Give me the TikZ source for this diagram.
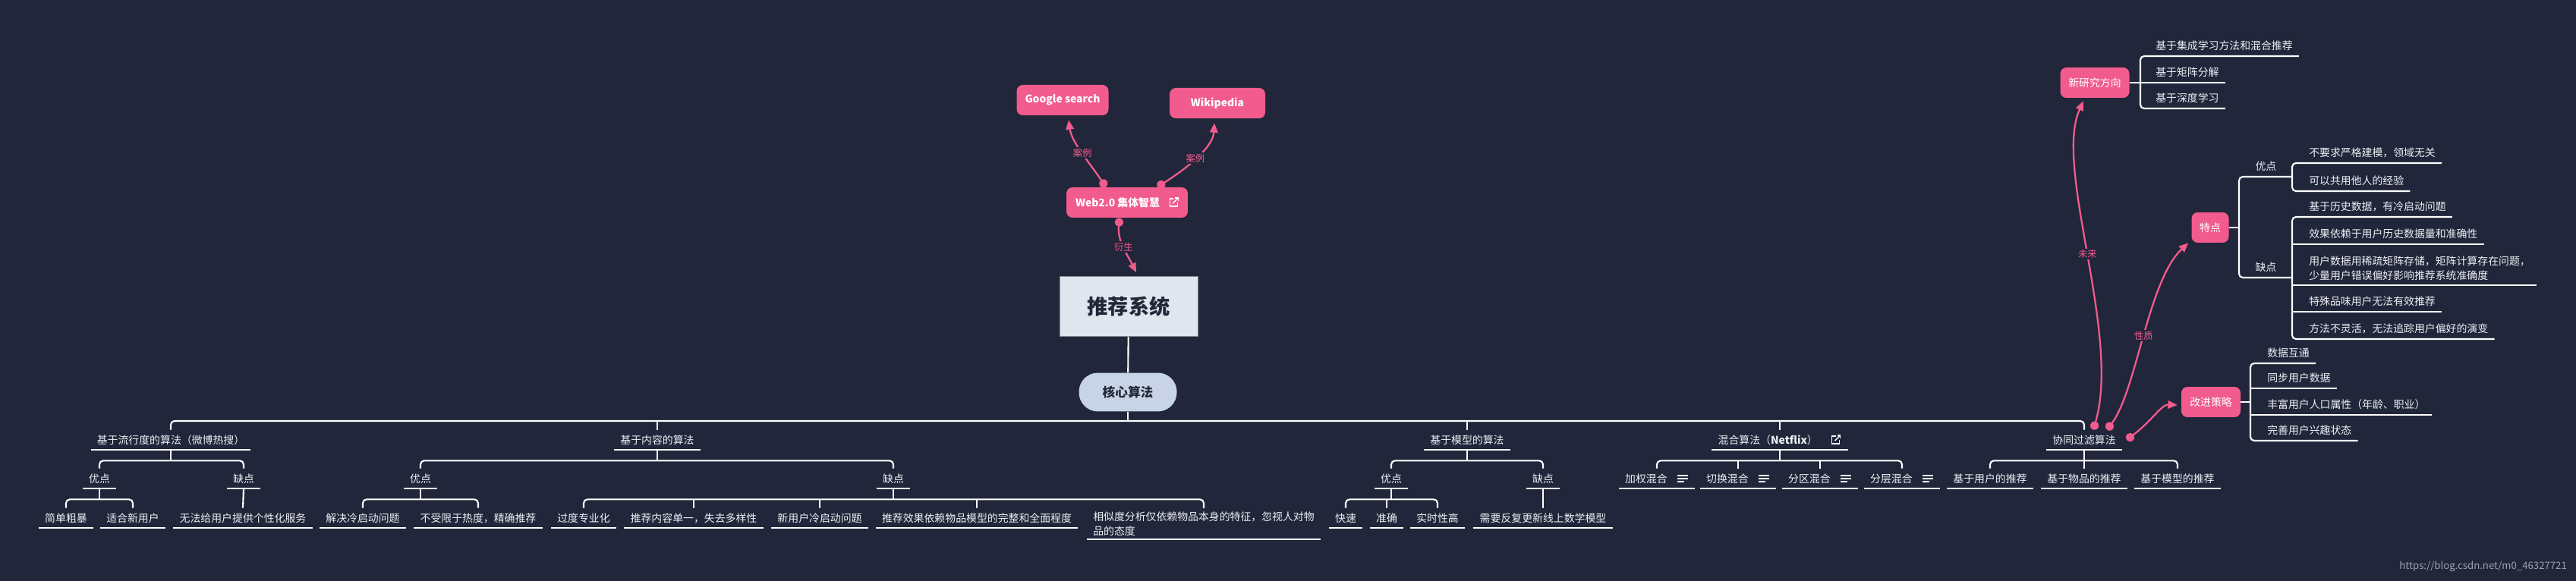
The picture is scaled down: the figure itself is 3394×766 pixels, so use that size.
\documentclass[tikz,border=0pt]{standalone}
\usepackage{fontspec}
\setmainfont{Noto Sans CJK SC}
\usetikzlibrary{arrows.meta,calc}
\definecolor{bgnavy}{HTML}{21263A}
\definecolor{pinkhi}{HTML}{F15B8D}
\definecolor{rootbg}{HTML}{E1E5EE}
\definecolor{pillbg}{HTML}{C8D3E6}
\definecolor{inkdark}{HTML}{232838}
\definecolor{leaftxt}{HTML}{EEF0F5}
\definecolor{markgray}{HTML}{9EA3B0}
\tikzset{
  rootbox/.style={rectangle,fill=rootbg,draw=rootbg!60!black,line width=0.4pt,
    text=inkdark,font=\fontsize{15.5}{18}\selectfont\bfseries,
    minimum width=3.64cm,minimum height=1.58cm},
  corepill/.style={rectangle,rounded corners=0.5cm,fill=pillbg,text=inkdark,
    font=\fontsize{9.5}{11}\selectfont\bfseries,minimum width=2.58cm,minimum height=1.02cm},
  pinkbox/.style={rectangle,rounded corners=0.16cm,fill=pinkhi,text=white,
    font=\fontsize{7.9}{9}\selectfont,minimum height=0.8cm,inner xsep=0pt},
  pinkbold/.style={pinkbox,font=\fontsize{7.9}{9}\selectfont\bfseries},
  lf/.style={text=leaftxt,font=\fontsize{7.9}{10.7}\selectfont,inner xsep=4.5pt,
    inner ysep=0pt,minimum height=0.52cm},
  rl/.style={lf,anchor=south west},
  br/.style={draw=white,line width=1.2pt,rounded corners=0.1cm},
  uline/.style={draw=white,line width=1.2pt},
  rel/.style={draw=pinkhi,line width=1.3pt,
    arrows={Circle[length=6.5pt]-Triangle[length=7pt,width=6pt]}},
  rellbl/.style={fill=bgnavy,text=pinkhi,font=\fontsize{7}{8}\selectfont,inner sep=1pt},
}
% small icons drawn beside node texts
\newcommand{\extlinkmark}[1]{%
  \begin{scope}[shift={(#1)},line width=0.8pt,white]
    \draw (0,-5) -- (-5,-5) -- (-5,5) -- (5,5) -- (5,0);
    \draw (-1,1) -- (6,-6);
    \draw (2,-6) -- (6,-6) -- (6,-2);
  \end{scope}}
\newcommand{\notemark}[1]{%
  \begin{scope}[shift={(#1)},line width=0.8pt,white]
    \draw (-7,-4) -- (7,-4);
    \draw (-7,0) -- (7,0);
    \draw (-7,4) -- (2,4);
  \end{scope}}

\begin{document}
\begin{tikzpicture}[x=0.02cm,y=-0.02cm]
  \useasboundingbox (0,0) rectangle (3394,766);
  \fill[bgnavy] (0,0) rectangle (3394,766);

  % centre
  \node[rootbox] (root) at (1487,404) {推荐系统};
  \node[corepill] (core) at (1486,517) {核心算法};
  \node[pinkbold,inner xsep=0.24cm] (web) at (1485,267) {Web2.0 集体智慧\kern0.5cm};
  \node[pinkbold,minimum width=2.42cm] (google) at (1400,132) {Google search};
  \node[pinkbold,minimum width=2.52cm] (wiki) at (1604,136) {Wikipedia};
  \extlinkmark{$(web.east)+(-19,0)$}

  \draw[rel] ($(web.north)+(-28,0)$) .. controls (1436,215) and (1412,188) ..
    node[rellbl,pos=.5]{案例} ($(google.south)+(8,6)$);
  \draw[rel] ($(web.north)+(40,0)$) .. controls (1560,224) and (1598,196) ..
    node[rellbl,pos=.5]{案例} ($(wiki.south)+(-4,6)$);
  \draw[rel] ($(web.south)+(-10,0)$) .. controls (1472,318) and (1485,335) ..
    node[rellbl,pos=.5]{衍生} ($(root.north)+(10,-5)$);

  % popularity
  \node[lf] (pop) at (225,580) {基于流行度的算法（微博热搜）};
  \node[lf] (popY) at (131,631) {优点};
  \node[lf] (popN) at (321,631) {缺点};
  \node[lf] (popY1) at (87,683) {简单粗暴};
  \node[lf] (popY2) at (175,683) {适合新用户};
  \node[lf] (popN1) at (320,683) {无法给用户提供个性化服务};
  % content
  \node[lf] (cnt) at (866,580) {基于内容的算法};
  \node[lf] (cntY) at (554,631) {优点};
  \node[lf] (cntN) at (1177,631) {缺点};
  \node[lf] (cntY1) at (478,683) {解决冷启动问题};
  \node[lf] (cntY2) at (630,683) {不受限于热度，精确推荐};
  \node[lf] (cntN1) at (769,683) {过度专业化};
  \node[lf] (cntN2) at (914,683) {推荐内容单一，失去多样性};
  \node[lf] (cntN3) at (1080,683) {新用户冷启动问题};
  \node[lf] (cntN4) at (1287,683) {推荐效果依赖物品模型的完整和全面程度};
  \node[lf,align=left,anchor=north,minimum height=0pt,inner ysep=2.5pt] (cntN5) at (1586,670)
    {相似度分析仅依赖物品本身的特征，忽视人对物\\品的态度};
  % model
  \node[lf] (mdl) at (1933,580) {基于模型的算法};
  \node[lf] (mdlY) at (1833,631) {优点};
  \node[lf] (mdlN) at (2033,631) {缺点};
  \node[lf] (mdlY1) at (1773,683) {快速};
  \node[lf] (mdlY2) at (1827,683) {准确};
  \node[lf] (mdlY3) at (1894,683) {实时性高};
  \node[lf] (mdlN1) at (2033,683) {需要反复更新线上数学模型};
  % hybrid
  \node[lf] (hyb) at (2345,580) {混合算法（\textbf{Netflix}）\kern18pt};
  \node[lf] (hyb1) at (2183,631) {加权混合\kern16pt};
  \node[lf] (hyb2) at (2290,631) {切换混合\kern16pt};
  \node[lf] (hyb3) at (2398,631) {分区混合\kern16pt};
  \node[lf] (hyb4) at (2506,631) {分层混合\kern16pt};
  \extlinkmark{$(hyb.east)+(-16,0)$}
  \foreach \n in {hyb1,hyb2,hyb3,hyb4}
    \notemark{$(\n.east)+(-16,0)$};
  % collaborative filtering
  \node[lf] (cf) at (2746,580) {协同过滤算法};
  \node[lf] (cf1) at (2622,631) {基于用户的推荐};
  \node[lf] (cf2) at (2746,631) {基于物品的推荐};
  \node[lf] (cf3) at (2869,631) {基于模型的推荐};

  \foreach \n in {pop,popY,popN,popY1,popY2,popN1,cnt,cntY,cntN,cntY1,cntY2,cntN1,cntN2,
      cntN3,cntN4,cntN5,mdl,mdlY,mdlN,mdlY1,mdlY2,mdlY3,mdlN1,hyb,hyb1,hyb2,hyb3,hyb4,
      cf,cf1,cf2,cf3}
    \draw[uline] (\n.south west) -- (\n.south east);

  % tree lines
  \coordinate (mbus) at (1486,555);
  \draw[br] (root) -- (core);
  \draw[br] (core) -- (mbus);
  \draw[br] (pop.north) |- (mbus) -| (cf.north);
  \foreach \n in {cnt,mdl,hyb}
    \draw[br] (\n.north) -- (\n.north |- mbus);
  \foreach \p/\a/\b in {pop/popY/popN,popY/popY1/popY2,cnt/cntY/cntN,cntY/cntY1/cntY2,
      cntN/cntN1/cntN5,mdl/mdlY/mdlN,mdlY/mdlY1/mdlY3,hyb/hyb1/hyb4,cf/cf1/cf3}
    \draw[br] (\a.north) |- ($(\p.south)+(0,14)$) -| (\b.north);
  \foreach \p in {pop,popY,cnt,cntY,cntN,mdl,mdlY,hyb,cf}
    \draw[br] (\p.south) -- ++(0,14);
  \foreach \c in {cntN2,cntN3,cntN4,mdlY2,hyb2,hyb3,cf2}
    \draw[br] (\c.north) -- ++(0,-11);
  \draw[br] (popN.south) -- (popN1.north);
  \draw[br] (mdlN.south) -- (mdlN1.north);

  % right side
  \node[pinkbox,minimum width=1.82cm] (nrd) at (2760,109) {新研究方向};
  \node[rl] (nrd1) at (2832,74) {基于集成学习方法和混合推荐};
  \node[rl] (nrd2) at (2832,109) {基于矩阵分解};
  \node[rl] (nrd3) at (2832,143) {基于深度学习};
  \coordinate (nrdx) at (2820,0);
  \draw[br] (nrd1.south east) -- (nrd1.south -| nrdx) |- (nrd3.south east);
  \draw[br] (nrd.east) -- (nrd2.south east);

  \node[pinkbox,minimum width=0.98cm] (tedian) at (2912,300) {特点};
  \node[rl,minimum width=1.4cm,inner xsep=0pt] (tdY) at (2950,233) {优点};
  \node[rl,minimum width=1.4cm,inner xsep=0pt] (tdN) at (2950,366) {缺点};
  \draw[br] (tdY.south east) -- (tdY.south west) |- (tdN.south east);
  \draw[br] (tedian.east) -- (tedian.east -| tdY.south west);
  \node[rl] (tdY1) at (3034,215) {不要求严格建模，领域无关};
  \node[rl] (tdY2) at (3034,252) {可以共用他人的经验};
  \node[rl] (tdN1) at (3034,286) {基于历史数据，有冷启动问题};
  \node[rl] (tdN2) at (3034,322) {效果依赖于用户历史数据量和准确性};
  \node[rl,align=left,minimum height=0pt,inner ysep=3.5pt] (tdN3) at (3034,376)
    {用户数据用稀疏矩阵存储，矩阵计算存在问题，\\少量用户错误偏好影响推荐系统准确度};
  \node[rl] (tdN4) at (3034,411) {特殊品味用户无法有效推荐};
  \node[rl] (tdN5) at (3034,447) {方法不灵活，无法追踪用户偏好的演变};
  \coordinate (tdx) at (3020,0);
  \draw[br] (tdY1.south east) -- (tdY1.south -| tdx) |- (tdY2.south east);
  \draw[br] (tdN1.south east) -- (tdN1.south -| tdx) |- (tdN5.south east);
  \foreach \n in {tdN2,tdN3,tdN4}
    \draw[br] (\n.south -| tdx) -- (\n.south east);

  \node[pinkbox,minimum width=1.56cm] (gjcl) at (2913,530) {改进策略};
  \node[rl] (gj1) at (2979,479) {数据互通};
  \node[rl] (gj2) at (2979,512) {同步用户数据};
  \node[rl] (gj3) at (2979,547) {丰富用户人口属性（年龄、职业）};
  \node[rl] (gj4) at (2979,581) {完善用户兴趣状态};
  \coordinate (gjx) at (2965,0);
  \draw[br] (gj1.south east) -- (gj1.south -| gjx) |- (gj4.south east);
  \foreach \n in {gj2,gj3}
    \draw[br] (\n.south -| gjx) -- (\n.south east);
  \draw[br] (gjcl.east) -- (gjcl.east -| gjx);

  \draw[rel] ($(cf.north)+(12,0)$) .. controls (2795,440) and (2705,220) ..
    node[rellbl,pos=.5]{未来} ($(nrd.south)+(-15,4)$);
  \draw[rel] ($(cf.north)+(30,0)$) .. controls (2815,515) and (2830,370) ..
    node[rellbl,pos=.5]{性质} ($(tedian.south west)+(-4,0)$);
  \draw[rel] ($(cf.east)+(6,0)$) .. controls (2835,555) and (2848,533) ..
    ($(gjcl.west)+(-5,4)$);

  \node[font=\fontsize{7.5}{9}\selectfont,text=markgray,anchor=east] (wmark) at (3388,747)
    {https://blog.csdn.net/m0\_46327721};
\end{tikzpicture}
\end{document}
